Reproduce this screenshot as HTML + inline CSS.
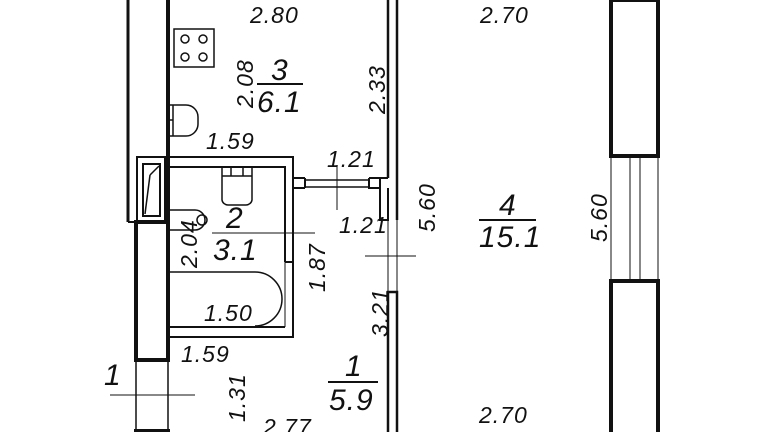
<!DOCTYPE html>
<html><head><meta charset="utf-8"><style>
html,body{margin:0;padding:0;background:#fff;width:768px;height:432px;overflow:hidden}
svg{display:block}
text{font-family:"Liberation Sans",sans-serif;font-style:italic;font-size:23px;letter-spacing:1px;fill:#111}
.b{font-size:30px;letter-spacing:1px}
</style></head><body>
<svg width="768" height="432" viewBox="0 0 768 432" xmlns="http://www.w3.org/2000/svg">
<g stroke="#111" fill="none">
<line x1="128" y1="0" x2="128" y2="222" stroke-width="3"/>
<line x1="168" y1="0" x2="168" y2="360" stroke-width="4"/>
<rect x="137" y="157" width="28" height="65" stroke-width="2"/>
<rect x="143" y="164" width="17" height="52" stroke-width="2"/>
<line x1="145" y1="214" x2="150" y2="175" stroke-width="1.5"/><line x1="150" y1="175" x2="159" y2="166" stroke-width="1.5"/>
<line x1="128" y1="222" x2="137" y2="222" stroke-width="2"/>
<rect x="136" y="222" width="32" height="138" stroke-width="4"/>
<line x1="136" y1="360" x2="136" y2="432" stroke-width="1.5"/>
<line x1="168" y1="360" x2="168" y2="432" stroke-width="1.5"/>
<line x1="134" y1="431" x2="170" y2="431" stroke-width="4"/>
<line x1="110" y1="395" x2="195" y2="395" stroke-width="1"/>
<polyline points="137,157 293,157 293,178 305,178" stroke-width="2"/>
<polyline points="168,167 285,167 285,262" stroke-width="2"/>
<polyline points="293,178 293,337 168,337" stroke-width="2"/>
<line x1="285" y1="262" x2="293" y2="262" stroke-width="2"/>
<line x1="168" y1="327" x2="285" y2="327" stroke-width="2"/>
<line x1="285" y1="262" x2="285" y2="327" stroke-width="1"/>
<line x1="293" y1="188" x2="305" y2="188" stroke-width="2"/>
<line x1="305" y1="178" x2="305" y2="188" stroke-width="2"/>
<line x1="305" y1="180" x2="369" y2="180" stroke-width="1.5"/>
<line x1="305" y1="187" x2="369" y2="187" stroke-width="1.5"/>
<polyline points="369,178 380,178 380,188 369,188 369,178" stroke-width="2"/>
<line x1="337" y1="165" x2="337" y2="210" stroke-width="1"/>
<line x1="388" y1="0" x2="388" y2="178" stroke-width="2.5"/>
<line x1="397" y1="0" x2="397" y2="220" stroke-width="2.5"/>
<polyline points="380,178 388,178" stroke-width="2"/>
<polyline points="380,188 380,220 388,220 388,188" stroke-width="2"/>
<line x1="388" y1="220" x2="388" y2="292" stroke-width="1"/>
<line x1="397" y1="220" x2="397" y2="292" stroke-width="1"/>
<rect x="388" y="292" width="9" height="145" stroke-width="2.5"/>
<line x1="365" y1="256" x2="416" y2="256" stroke-width="1"/>
<rect x="174" y="29" width="40" height="38" stroke-width="1.5"/>
<circle cx="185" cy="39" r="4" stroke-width="1.5"/><circle cx="203" cy="39" r="4" stroke-width="1.5"/>
<circle cx="185" cy="57" r="4" stroke-width="1.5"/><circle cx="203" cy="57" r="4" stroke-width="1.5"/>
<path d="M169,105 H186 A12,12 0 0 1 198,117 V124 A12,12 0 0 1 186,136 H169" stroke-width="1.5"/>
<line x1="173" y1="105" x2="173" y2="136" stroke-width="1.5"/>
<line x1="169" y1="120" x2="173" y2="120" stroke-width="1.5"/>
<path d="M222,168 V200 A6,6 0 0 0 228,205 H246 A6,6 0 0 0 252,200 V168" stroke-width="1.5"/>
<line x1="222" y1="176" x2="252" y2="176" stroke-width="1.5"/>
<line x1="231" y1="168" x2="231" y2="176" stroke-width="1.5"/><line x1="243" y1="168" x2="243" y2="176" stroke-width="1.5"/>
<path d="M169,210 H195 A10,10 0 0 1 195,230 H169" stroke-width="1.5"/>
<circle cx="202" cy="220" r="5" stroke-width="1.5"/>
<path d="M169,272 H255 A27,27 0 0 1 255,326" stroke-width="1.5"/>
<line x1="212" y1="233" x2="315" y2="233" stroke-width="1"/>
<rect x="611" y="0" width="47" height="156" stroke-width="4"/>
<rect x="611" y="281" width="47" height="160" stroke-width="4"/>
<line x1="611" y1="156" x2="611" y2="281" stroke-width="1"/>
<line x1="630" y1="156" x2="630" y2="281" stroke-width="1"/>
<line x1="640" y1="156" x2="640" y2="281" stroke-width="1"/>
<line x1="658" y1="156" x2="658" y2="281" stroke-width="1"/>
<line x1="257" y1="84" x2="303" y2="84" stroke-width="2"/>
<line x1="479" y1="220" x2="536" y2="220" stroke-width="2"/>
<line x1="328" y1="382" x2="378" y2="382" stroke-width="2"/>
</g>
<text x="250" y="23">2.80</text>
<text x="480" y="23">2.70</text>
<text x="271" y="80" class="b">3</text>
<text x="257" y="112" class="b">6.1</text>
<text transform="translate(253,108) rotate(-90)">2.08</text>
<text transform="translate(385,114) rotate(-90)">2.33</text>
<text x="206" y="149">1.59</text>
<text x="327" y="167">1.21</text>
<text transform="translate(435,232) rotate(-90)">5.60</text>
<text x="499" y="215" class="b">4</text>
<text x="479" y="247" class="b">15.1</text>
<text transform="translate(607,242) rotate(-90)">5.60</text>
<text transform="translate(197,268) rotate(-90)">2.04</text>
<text x="226" y="228" class="b">2</text>
<text x="213" y="260" class="b">3.1</text>
<text x="339" y="233">1.21</text>
<text transform="translate(325,292) rotate(-90)">1.87</text>
<text x="204" y="321">1.50</text>
<text transform="translate(388,337) rotate(-90)">3.21</text>
<text x="181" y="362">1.59</text>
<text x="104" y="385" class="b">1</text>
<text x="345" y="376" class="b">1</text>
<text x="329" y="410" class="b">5.9</text>
<text transform="translate(245,422) rotate(-90)">1.31</text>
<text x="263" y="435">2.77</text>
<text x="479" y="423">2.70</text>
</svg>
</body></html>
